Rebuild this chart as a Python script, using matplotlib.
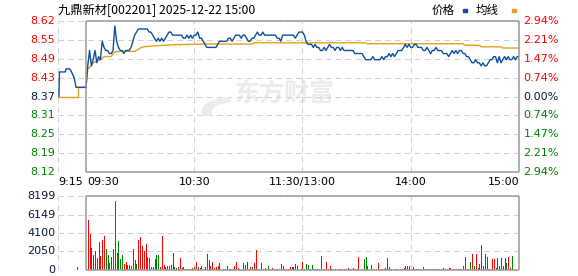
import matplotlib
matplotlib.use("Agg")
import matplotlib.pyplot as plt
from matplotlib.patches import Rectangle, Wedge

plt.rcParams['font.family'] = ['DejaVu Sans', 'Noto Sans CJK SC']

name = "九鼎新材"
code = "002201"
stamp = "2025-12-22 15:00"
pre_close = 8.37
pct_max = 2.94
pct_labels = ["2.94", "2.21", "1.47", "0.74", "0.00", "0.74", "1.47", "2.21", "2.94"]
vol_max = 8199

# pre-market auction (minutes relative to 9:30)
pre_t = [-15, -14.7, -11.5, -11, -9, -8, -6.5, -5.5, 0]
pre_price = [8.37, 8.45, 8.45, 8.46, 8.46, 8.45, 8.43, 8.40, 8.40]
pre_avg_t = [-15, -4.6, -4.6, 0]
pre_avg = [8.37, 8.37, 8.40, 8.40]

# one value per minute, 9:30 .. 11:30 / 13:01 .. 15:00
price = [
    8.40, 8.47, 8.52, 8.47, 8.49, 8.52, 8.48, 8.50, 8.49, 8.55,
    8.53, 8.52, 8.52, 8.51, 8.51, 8.52, 8.60, 8.55, 8.53, 8.52,
    8.52, 8.51, 8.52, 8.52, 8.52, 8.53, 8.55, 8.57, 8.58, 8.59,
    8.59, 8.59, 8.59, 8.59, 8.59, 8.58, 8.58, 8.57, 8.56, 8.55,
    8.56, 8.55, 8.56, 8.55, 8.56, 8.57, 8.58, 8.58, 8.57, 8.57,
    8.57, 8.57, 8.57, 8.57, 8.56, 8.56, 8.57, 8.56, 8.57, 8.56,
    8.57, 8.57, 8.58, 8.56, 8.56, 8.55, 8.54, 8.53, 8.53, 8.53,
    8.53, 8.53, 8.53, 8.54, 8.55, 8.55, 8.55, 8.55, 8.55, 8.56,
    8.56, 8.55, 8.56, 8.57, 8.57, 8.57, 8.56, 8.57, 8.57, 8.56,
    8.55, 8.55, 8.56, 8.56, 8.57, 8.58, 8.57, 8.57, 8.58, 8.57,
    8.57, 8.57, 8.57, 8.57, 8.57, 8.57, 8.56, 8.56, 8.55, 8.57,
    8.57, 8.57, 8.57, 8.57, 8.57, 8.57, 8.56, 8.57, 8.58, 8.58,
    8.58, 8.57, 8.55, 8.54, 8.54, 8.54, 8.53, 8.54, 8.53, 8.53,
    8.52, 8.52, 8.53, 8.52, 8.53, 8.54, 8.53, 8.53, 8.52, 8.53,
    8.53, 8.52, 8.53, 8.52, 8.52, 8.52, 8.52, 8.52, 8.52, 8.51,
    8.51, 8.51, 8.51, 8.51, 8.50, 8.49, 8.49, 8.49, 8.49, 8.50,
    8.49, 8.49, 8.49, 8.49, 8.50, 8.49, 8.50, 8.50, 8.51, 8.50,
    8.51, 8.50, 8.51, 8.52, 8.52, 8.52, 8.53, 8.54, 8.53, 8.54,
    8.53, 8.53, 8.54, 8.54, 8.53, 8.53, 8.53, 8.52, 8.52, 8.53,
    8.52, 8.51, 8.52, 8.52, 8.53, 8.52, 8.52, 8.52, 8.51, 8.51,
    8.51, 8.50, 8.51, 8.52, 8.51, 8.52, 8.51, 8.52, 8.52, 8.51,
    8.51, 8.50, 8.50, 8.49, 8.48, 8.48, 8.49, 8.48, 8.48, 8.47,
    8.48, 8.47, 8.47, 8.48, 8.49, 8.49, 8.50, 8.50, 8.48, 8.50,
    8.48, 8.49, 8.50, 8.49, 8.50, 8.49, 8.49, 8.50, 8.49, 8.50,
    8.50,
]

avg_t = [0, 1, 3, 4, 6, 8, 9, 10, 14, 15, 16, 18, 27, 28, 30, 32, 38, 50, 68,
         92, 93, 155, 156, 209, 210, 218, 219, 230, 231, 240]
avg = [8.40, 8.46, 8.47, 8.48, 8.485, 8.49, 8.495, 8.50, 8.50, 8.51, 8.515,
       8.517, 8.517, 8.52, 8.528, 8.532, 8.535, 8.539, 8.541, 8.541, 8.545,
       8.545, 8.542, 8.542, 8.537, 8.537, 8.532, 8.532, 8.528, 8.528]

pre_vol_t = [-5]
pre_vol = [300]

vol_t = [1, 2, 3, 4, 5, 6, 7, 8, 9, 10, 11, 12, 13, 14, 15, 16, 17, 18, 19, 20,
         21, 22, 23, 24, 25, 26, 27, 28, 29, 30, 31, 32, 33, 34, 35, 36, 37, 38, 39, 40,
         41, 42, 43, 44, 45, 46, 47, 48, 49, 50, 51, 52, 53, 54, 55, 56, 57, 58, 59, 60,
         61, 62, 63, 64, 66, 67, 68, 69, 70, 71, 72, 73, 74, 76, 77, 78, 79, 80, 81, 82,
         83, 84, 85, 87, 88, 89, 90, 91, 92, 93, 94, 95, 96, 97, 98, 99, 100, 101, 102, 103,
         104, 106, 107, 108, 109, 110, 111, 112, 113, 114, 115, 116, 117, 119, 120, 121, 122, 123, 124, 125,
         126, 127, 128, 129, 130, 132, 133, 134, 135, 136, 137, 138, 140, 141, 142, 143, 144, 145, 146, 147,
         148, 149, 150, 151, 153, 154, 155, 156, 158, 159, 161, 162, 163, 164, 165, 166, 167, 168, 169, 171,
         172, 173, 174, 175, 176, 177, 178, 179, 181, 182, 183, 184, 185, 187, 188, 189, 190, 191, 192, 193,
         194, 195, 197, 198, 199, 200, 201, 202, 203, 204, 205, 206, 207, 208, 209, 210, 211, 212, 213, 214,
         215, 216, 217, 218, 219, 220, 221, 222, 223, 224, 225, 226, 227, 228, 229, 230, 231, 232, 233, 234,
         235, 236, 237, 240]
vol = [5560, 3990, 2400, 1620, 2140, 1320, 3080, 1500, 3310, 3760, 2290, 1650, 830, 1430, 2290, 7600, 1840, 3200, 1170, 1620,
       710, 940, 600, 560, 490, 2290, 1090, 710, 3310, 3650, 2630, 2070, 2860, 1390, 1280, 340, 340, 1170, 1620, 1620,
       300, 3760, 600, 340, 490, 450, 600, 1840, 380, 230, 380, 1280, 190, 340, 150, 150, 150, 150, 190, 340,
       940, 300, 260, 450, 300, 1730, 1090, 490, 900, 260, 340, 450, 830, 150, 150, 490, 150, 150, 150, 450,
       940, 260, 110, 750, 530, 940, 150, 300, 300, 750, 2180, 150, 110, 830, 150, 190, 150, 490, 150, 260,
       150, 150, 150, 680, 450, 150, 150, 150, 300, 300, 300, 640, 410, 150, 940, 110, 710, 560, 150, 600,
       110, 110, 110, 110, 1500, 150, 940, 150, 490, 110, 110, 110, 110, 110, 110, 110, 110, 260, 110, 110,
       190, 110, 110, 1390, 150, 1170, 1390, 410, 600, 110, 110, 830, 110, 110, 110, 190, 1280, 300, 110, 110,
       110, 110, 110, 110, 260, 410, 490, 490, 300, 110, 110, 110, 110, 300, 110, 110, 110, 110, 110, 110,
       110, 110, 110, 190, 110, 110, 190, 190, 110, 110, 110, 110, 110, 110, 410, 1390, 110, 110, 940, 1800,
       490, 1800, 260, 710, 2820, 490, 1800, 1390, 110, 110, 1170, 1170, 260, 1280, 490, 1280, 410, 1280, 790, 1390,
       260, 1500, 110, 2070]
vol_dir = [1, 1, -1, -1, 1, -1, -1, 1, 1, 1, -1, -1, -1, 1, 1, 1, -1, -1, -1, -1,
           1, 1, 1, -1, -1, 1, 1, -1, 1, 1, 1, 1, 1, 1, 1, -1, -1, -1, -1, -1,
           1, 1, 1, 1, 1, 1, 1, 1, -1, -1, 1, 1, 1, 1, 1, 1, 1, 1, -1, 1,
           1, -1, 1, 1, -1, -1, 1, 1, 1, 1, 1, 1, 1, 1, 1, 1, 1, 1, 1, 1,
           1, 1, -1, -1, 1, 1, 1, 1, -1, 1, 1, 1, 1, -1, 1, 1, 1, -1, 1, 1,
           1, 1, 1, -1, 1, 1, 1, 1, 1, 1, 1, 1, 1, 1, 1, -1, -1, -1, 1, -1,
           1, 1, 1, 1, -1, 1, 1, 1, 1, 1, 1, 1, -1, 1, 1, 1, 1, 1, 1, -1,
           1, 1, 1, 1, 1, -1, -1, 1, 1, 1, 1, 1, 1, 1, 1, -1, 1, 1, -1, 1,
           1, 1, 1, 1, 1, 1, -1, -1, 1, 1, 1, 1, 1, 1, 1, 1, 1, 1, 1, 1,
           1, -1, 1, 1, -1, 1, -1, 1, 1, 1, 1, -1, 1, 1, 1, -1, 1, 1, -1, 1,
           -1, 1, 1, -1, 1, -1, -1, 1, 1, 1, 1, 1, -1, -1, 1, -1, -1, 1, -1, 1,
           1, -1, 1, 1]

time_ticks = [-15.5, 0, 60, 120, 180, 240]
time_labels = ["9:15", "09:30", "10:30", "11:30/13:00", "14:00", "15:00"]

RED = '#ff0000'
GREEN = '#008000'
DARK = '#0a1a3c'
BLUE = '#0f4ea0'
GOLD = '#e3a21a'
GRID = '#d2d2d2'
FRAME = '#999999'
DASH = (0, (5.5, 4))

W, H = 578, 276
XMIN, XMAX = -15.5, 240


def box(l, t, r, b):
    return [l / W, 1 - b / H, (r - l) / W, (b - t) / H]


fig = plt.figure(figsize=(W / 100, H / 100), dpi=100)

# ---------- price panel ----------
ax = fig.add_axes(box(58, 21, 519, 172))
lo = pre_close * (1 - pct_max / 100)
hi = pre_close * (1 + pct_max / 100)
ax.set_xlim(XMIN, XMAX)
ax.set_ylim(lo, hi)
ax.axis('off')

steps = range(4, -5, -1)
for k, plab in zip(steps, pct_labels):
    lv = pre_close * (1 + k * pct_max / 400)
    ax.axhline(lv, color=GRID, lw=0.75, ls=DASH, zorder=1)
    c = RED if k > 0 else (GREEN if k < 0 else DARK)
    ax.text(XMIN - 1.5, lv, "%.2f" % lv, color=c, fontsize=8, ha='right', va='center')
    ax.text(XMAX + 2.5, lv, plab + "%", color=c, fontsize=8, ha='left', va='center')
for xv in [XMIN, 60, 120, 180]:
    ax.axvline(xv, color=GRID, lw=0.75, ls=DASH, zorder=1)

# solid frame round the trading session
fk = dict(color=FRAME, lw=1.1, clip_on=False, zorder=5, solid_capstyle='butt')
ax.plot([0, XMAX], [hi, hi], **fk)
ax.plot([0, XMAX], [lo, lo], **fk)
ax.plot([0, 0], [lo, hi], **fk)
ax.plot([XMAX, XMAX], [lo, hi], **fk)

# watermark (logo fan + name)
wm = '#ececec'
for a0, a1 in [(95, 125), (130, 160), (165, 195)]:
    fig.patches.append(Wedge((232 / W, 1 - 112 / H), 30 / W, a0, a1, width=9 / W,
                             color=wm, transform=fig.transFigure, figure=fig, zorder=0))
ax.text(110, 8.378, "东方财富", fontsize=18, fontweight='bold', color=wm,
        family=['Noto Sans CJK SC'], ha='center', va='center', zorder=0)

ax.plot(pre_avg_t, pre_avg, color=GOLD, lw=1.0, zorder=3)
ax.plot(pre_t, pre_price, color=BLUE, lw=1.0, zorder=4)
ax.plot(avg_t, avg, color=GOLD, lw=1.0, zorder=3)
ax.plot(range(len(price)), price, color=BLUE, lw=1.0, zorder=4)

for xv, lab in zip(time_ticks, time_labels):
    ha = 'left' if xv <= 0 else ('right' if xv >= XMAX else 'center')
    ax.text(xv + (0.6 if xv == 0 else 0), lo - 0.032, lab, fontsize=8, ha=ha,
            va='center', color='#000000')

# ---------- volume panel ----------
av = fig.add_axes(box(58, 196, 519, 270))
av.set_xlim(XMIN, XMAX)
av.set_ylim(0, vol_max)
av.axis('off')

vlev = [0, 2050, 4100, 6149, 8199]
for lv in vlev:
    av.axhline(lv, color=GRID, lw=0.75, ls=DASH, zorder=1)
    av.text(XMIN - 1.5, lv, str(lv), color=DARK, fontsize=8, ha='right', va='center')
for xv in [XMIN, 60, 120, 180]:
    av.axvline(xv, color=GRID, lw=0.75, ls=DASH, zorder=1)
av.plot([0, XMAX], [vol_max, vol_max], **fk)
av.plot([0, XMAX], [0, 0], **fk)
av.plot([0, 0], [0, vol_max], **fk)
av.plot([XMAX, XMAX], [0, vol_max], **fk)

av.vlines(pre_vol_t, 0, pre_vol, colors=RED, lw=0.72, zorder=3, antialiased=False)
bar_colors = [RED if d > 0 else GREEN for d in vol_dir]
av.vlines(vol_t, 0, vol, colors=bar_colors, lw=0.72, zorder=3, antialiased=False)

# ---------- title and legend ----------
fig.text(58 / W, 1 - 10 / H, "%s[%s] %s" % (name, code, stamp), fontsize=8.8,
         family=['Noto Sans CJK SC', 'DejaVu Sans'], ha='left', va='center')
fig.text(432 / W, 1 - 10 / H, "价格", fontsize=8.3, family=['Noto Sans CJK SC'],
         ha='left', va='center')
fig.text(476 / W, 1 - 10 / H, "均线", fontsize=8.3, family=['Noto Sans CJK SC'],
         ha='left', va='center')
fig.patches.append(Rectangle((463 / W, 1 - 12 / H), 4 / W, 3 / H, color=BLUE,
                             transform=fig.transFigure, figure=fig))
fig.patches.append(Rectangle((512 / W, 1 - 12 / H), 4 / W, 3 / H, color=GOLD,
                             transform=fig.transFigure, figure=fig))

fig.savefig("out.png", dpi=100, facecolor='white')
